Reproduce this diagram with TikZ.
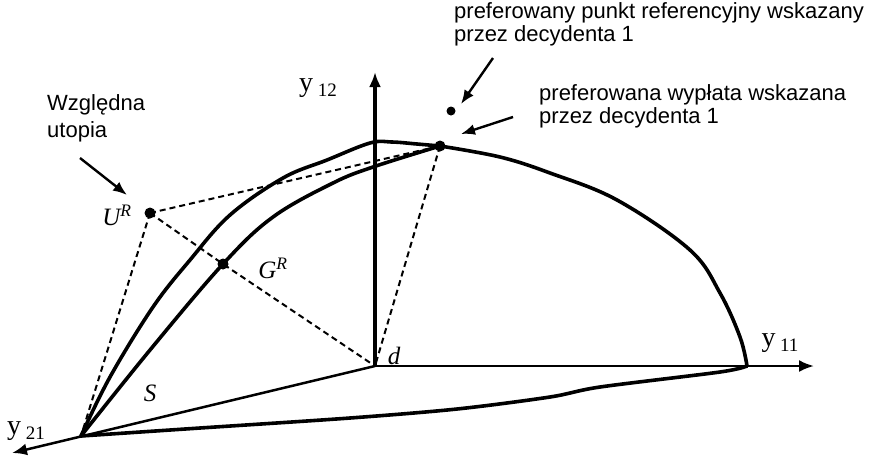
\documentclass[tikz,border=0pt]{standalone}
\usepackage{fontspec}
\setmainfont{Liberation Serif}
\newfontfamily\notefont{Liberation Sans}
\usetikzlibrary{arrows.meta}

\begin{document}
\begin{tikzpicture}[x=1pt,y=-1pt,>=Latex,
  curve/.style={line width=3.6pt,line cap=round,line join=round},
  axis/.style={line width=2.5pt,-{Latex[length=15pt,width=12pt]}},
  guide/.style={line width=2pt,dash pattern=on 6pt off 4pt},
  pointer/.style={line width=2.4pt,-{Latex[length=14pt,width=11pt]}},
  dot/.style={circle,fill,inner sep=0pt,minimum size=11pt},
  note/.style={font=\notefont\fontsize{22}{23}\selectfont,align=left,inner sep=0pt},
  sym/.style={font=\fontsize{25}{27}\selectfont\itshape,inner sep=0pt},
  axlabel/.style={font=\fontsize{28}{30}\selectfont,inner sep=0pt}]

\useasboundingbox (0,0) rectangle (885,459);

% axes
\coordinate (d) at (375,366);
\coordinate (v) at (81,436);
\coordinate (y12) at (375,72);
\coordinate (y11) at (814,366);
\coordinate (y21) at (12,453);
\coordinate (e) at (747,366);

\draw[axis,line width=3.6pt] (d) -- (y12);
\draw[axis] (d) -- (y11);
\draw[axis] (d) -- (y21);

% points
\node[dot] (pay) at (440,146) {};
\node[dot] (ur) at (150,213) {};
\node[dot] (gr) at (223,264) {};
\node[dot,minimum size=9pt] (ref) at (451,111) {};

% dashed guides
\draw[guide] (ur.center) -- (v);
\draw[guide] (ur.center) -- (pay.center);
\draw[guide] (ur.center) -- (gr.center) -- (d);
\draw[guide] (pay.center) -- (d);

% the set S
\draw[curve] plot[smooth,tension=0.6] coordinates {(v) (110,377) (153,307)
  (190,260) (230,215) (283,178) (327,160) (370,143) (392,142) (417,144) (pay.center)};
\draw[curve] plot[smooth,tension=0.6] coordinates {(v) (150,350) (gr.center)
  (273,217) (333,183) (373,167) (pay.center)};
\draw[curve] plot[smooth,tension=0.6] coordinates {(pay.center) (500,157) (550,173)
  (617,200) (690,250) (720,293) (740,337) (e)};
\draw[curve] plot[smooth,tension=0.5] coordinates {(e) (720,372) (600,387)
  (550,397) (457,409) (350,418) (200,428) (v)};

% labels
\node[axlabel] (l12) at (318,88) {y\,\raisebox{-5pt}{\fontsize{19}{20}\selectfont 12}};
\node[axlabel] (l11) at (780,343) {y\,\raisebox{-5pt}{\fontsize{19}{20}\selectfont 11}};
\node[axlabel] (l21) at (26,431) {y\,\raisebox{-5pt}{\fontsize{19}{20}\selectfont 21}};
\node[sym] (lur) at (117,215) {U\textsuperscript{R}};
\node[sym] (lgr) at (273,268) {G\textsuperscript{R}};
\node[sym] (ld) at (394,356) {d};
\node[sym] (ls) at (150,393) {S};

% notes
\node[note,anchor=west,font=\notefont\fontsize{22}{27}\selectfont] (utopia) at (47,118) {Względna\\utopia};
\coordinate (utopia tip) at (127,195);
\draw[pointer] (80,158) -- (utopia tip);

\node[note,anchor=west] (refnote) at (454,24) {preferowany punkt referencyjny wskazany\\przez decydenta 1};
\coordinate (ref tip) at (461,104);
\draw[pointer] (493,58) -- (ref tip);

\node[note,anchor=west] (paynote) at (539,106) {preferowana wypłata wskazana\\przez decydenta 1};
\coordinate (pay tip) at (461,134);
\draw[pointer] (513,117) -- (pay tip);
\end{tikzpicture}
\end{document}
